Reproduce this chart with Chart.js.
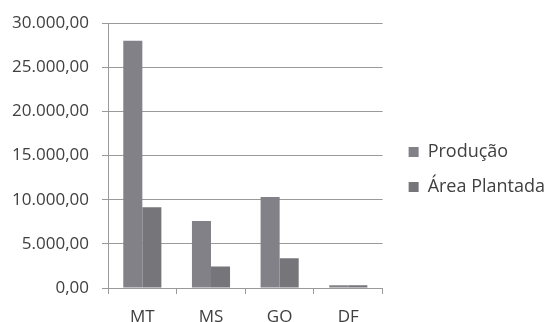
<!DOCTYPE html>
<html>
<head>
<meta charset="utf-8">
<script src="https://cdn.jsdelivr.net/npm/chart.js@4"></script>
<style>
  html, body { margin: 0; padding: 0; background: #fff; }
  #wrap { width: 547px; height: 322px; }
</style>
</head>
<body>
<div id="wrap"><canvas id="grafico" width="547" height="322"></canvas></div>
<script>
// Dados do gráfico
const estados = ['MT', 'MS', 'GO', 'DF'];
const producao = [28000, 7580, 10300, 320];
const areaPlantada = [9150, 2430, 3360, 320];
const eixoY = { min: 0, max: 30000, passo: 5000 };

// formato brasileiro 30.000,00
function formatar(v) {
  const inteiro = Math.round(v).toString().replace(/\B(?=(\d{3})+(?!\d))/g, '.');
  return inteiro + ',00';
}

const cinzaTexto = '#404040';
const cinzaLinha = '#9a9a9a';
const fonte = { family: 'Open Sans', size: 17 };

new Chart(document.getElementById('grafico'), {
  type: 'bar',
  data: {
    labels: estados,
    datasets: [
      { label: 'Produção', data: producao, backgroundColor: '#818187' },
      { label: 'Área Plantada', data: areaPlantada, backgroundColor: '#76767a' }
    ]
  },
  options: {
    responsive: false,
    animation: false,
    devicePixelRatio: 1,
    layout: { padding: { left: 8, top: 17, right: -8, bottom: 0 } },
    datasets: { bar: { barPercentage: 1, categoryPercentage: 0.555 } },
    plugins: {
      tooltip: { enabled: false },
      legend: {
        position: 'right',
        maxWidth: 170,
        labels: {
          boxWidth: 10, boxHeight: 10, padding: 17,
          color: cinzaTexto,
          font: { family: 'Open Sans', size: 18 }
        }
      }
    },
    scales: {
      x: {
        grid: { offset: true, drawOnChartArea: false, color: cinzaLinha, tickLength: 6 },
        border: { color: cinzaLinha },
        ticks: { color: cinzaTexto, font: fonte, padding: 13 },
        afterFit: s => { s.height = 34; }
      },
      y: {
        min: eixoY.min, max: eixoY.max,
        grid: { color: cinzaLinha, tickLength: 6 },
        border: { color: cinzaLinha },
        ticks: { stepSize: eixoY.passo, color: cinzaTexto, font: fonte, padding: 13,
          callback: v => formatar(v) },
        afterFit: s => { s.width = 100; }
      },
      // espaço entre o gráfico e a legenda
      folga: {
        type: 'linear', axis: 'y', position: 'right', display: true,
        grid: { display: false, drawOnChartArea: false },
        border: { display: false },
        ticks: { display: false },
        afterFit: s => { s.width = 9; }
      }
    }
  }
});
</script>
</body>
</html>
